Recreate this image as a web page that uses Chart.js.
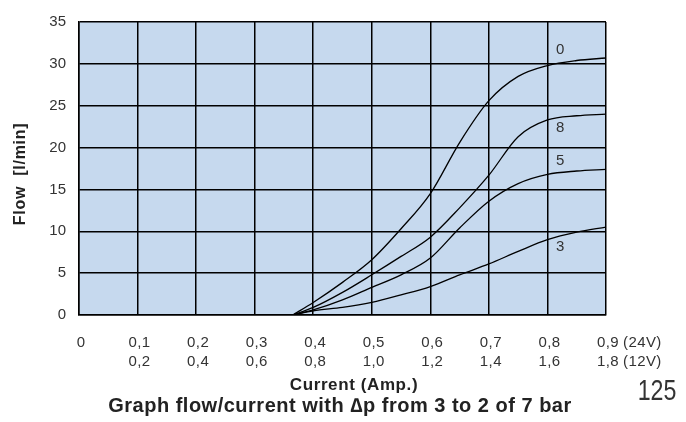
<!DOCTYPE html>
<html>
<head>
<meta charset="utf-8">
<script src="https://cdn.jsdelivr.net/npm/chart.js@4.4.4/dist/chart.umd.min.js"></script>
<style>
  html, body { margin: 0; padding: 0; background: #fff; }
  #wrap { width: 686px; height: 422px; position: relative; }
</style>
</head>
<body>
<div id="wrap"><canvas id="c" width="686" height="422"></canvas></div>
<script>
// Current (A, 24V) sample points
var current = [0.365, 0.4, 0.45, 0.5, 0.55, 0.6, 0.65, 0.7, 0.75, 0.8, 0.85, 0.9];

// Flow (l/min) per curve, labelled by the pressure drop
var flow0 = [0, 1.5, 3.9, 6.6, 10.3, 14.5, 20.6, 25.6, 28.5, 29.8, 30.4, 30.7];
var flow8 = [0, 0.9, 2.7, 4.8, 7.0, 9.3, 12.8, 16.7, 21.3, 23.3, 23.8, 24.0];
var flow5 = [0, 0.6, 1.8, 3.3, 4.8, 6.8, 10.4, 13.6, 15.7, 16.8, 17.2, 17.4];
var flow3 = [0, 0.5, 0.9, 1.5, 2.4, 3.4, 4.8, 6.1, 7.6, 9.0, 9.9, 10.5];

var curveNames = ['0', '8', '5', '3'];
var curveLabelY = [31.7, 22.4, 18.4, 8.1];

// x tick labels: 24V current on top row, 12V current below
var xTicks = [0, 0.1, 0.2, 0.3, 0.4, 0.5, 0.6, 0.7, 0.8, 0.9];
var xLabels24 = ['0', '0,1', '0,2', '0,3', '0,4', '0,5', '0,6', '0,7', '0,8', '0,9'];
var xLabels12 = ['', '0,2', '0,4', '0,6', '0,8', '1,0', '1,2', '1,4', '1,6', '1,8'];

var FONT = '"Liberation Sans", Arial, sans-serif';
var TXT = '#333333';

function series(ys) {
  return current.map(function (x, i) { return { x: x, y: ys[i] }; });
}

var plotBg = {
  id: 'plotBg',
  beforeDraw: function (chart) {
    var a = chart.chartArea, ctx = chart.ctx;
    ctx.save();
    ctx.fillStyle = '#c6d9ee';
    ctx.fillRect(a.left, a.top, a.right - a.left, a.bottom - a.top);
    ctx.restore();
  }
};

var annotate = {
  id: 'annotate',
  afterDraw: function (chart) {
    var ctx = chart.ctx, xs = chart.scales.x, ys = chart.scales.y;
    ctx.save();
    ctx.fillStyle = TXT;
    ctx.textBaseline = 'middle';
    ctx.font = '15px ' + FONT;
    ctx.letterSpacing = '0.4px';

    // x tick labels, two rows
    xTicks.forEach(function (v, i) {
      var px = xs.getPixelForValue(v) + 2;
      ctx.textAlign = 'center';
      ctx.fillText(xLabels24[i], px, 343);
      if (xLabels12[i]) ctx.fillText(xLabels12[i], px, 362);
      if (i === xTicks.length - 1) {
        var w = ctx.measureText(xLabels24[i]).width;
        ctx.textAlign = 'left';
        ctx.fillText('(24V)', px + w / 2 + 4, 343);
        ctx.fillText('(12V)', px + w / 2 + 4, 362);
      }
    });

    // curve labels
    curveNames.forEach(function (n, i) {
      ctx.textAlign = 'center';
      ctx.fillText(n, xs.getPixelForValue(0.822), ys.getPixelForValue(curveLabelY[i]));
    });

    // axis titles and caption
    ctx.fillStyle = '#222';
    ctx.textAlign = 'center';
    ctx.font = 'bold 17px ' + FONT;
    ctx.letterSpacing = '0.6px';
    ctx.fillText('Current (Amp.)', 354, 385);
    ctx.font = 'bold 20px ' + FONT;
    ctx.letterSpacing = '0.5px';
    ctx.fillText('Graph flow/current with \u2206p from 3 to 2 of 7 bar', 340, 406);

    ctx.letterSpacing = '0px';
    ctx.save();
    ctx.translate(657, 392);
    ctx.scale(0.8, 1);
    ctx.font = '29px ' + FONT;
    ctx.fillStyle = TXT;
    ctx.textAlign = 'center';
    ctx.fillText('125', 0, 0);
    ctx.restore();

    ctx.translate(21, 174);
    ctx.rotate(-Math.PI / 2);
    ctx.font = 'bold 16px ' + FONT;
    ctx.letterSpacing = '0.7px';
    ctx.fillStyle = '#222';
    ctx.textAlign = 'center';
    ctx.fillText('Flow  [l/min]', 0, 0);
    ctx.restore();
  }
};

function line(ys) {
  return {
    data: series(ys),
    borderColor: '#000',
    borderWidth: 1.3,
    pointRadius: 0,
    fill: false,
    cubicInterpolationMode: 'monotone'
  };
}

new Chart(document.getElementById('c'), {
  type: 'line',
  data: { datasets: [line(flow0), line(flow8), line(flow5), line(flow3)] },
  options: {
    responsive: false,
    animation: false,
    layout: { padding: { top: 15, right: 80, left: 0, bottom: 0 } },
    plugins: { legend: { display: false }, tooltip: { enabled: false } },
    scales: {
      x: {
        type: 'linear',
        min: 0, max: 0.9,
        ticks: { display: false, stepSize: 0.1 },
        grid: { color: '#000', lineWidth: 1.5, drawTicks: false },
        border: { color: '#000', width: 1.5 },
        afterFit: function (s) { s.height = 107; }
      },
      y: {
        min: 0, max: 35,
        ticks: {
          stepSize: 5,
          padding: 13,
          color: TXT,
          font: { family: FONT, size: 15 }
        },
        grid: { color: '#000', lineWidth: 1.5, drawTicks: false },
        border: { color: '#000', width: 1.5 },
        afterFit: function (s) { s.width = 79; }
      }
    }
  },
  plugins: [plotBg, annotate]
});
</script>
</body>
</html>
